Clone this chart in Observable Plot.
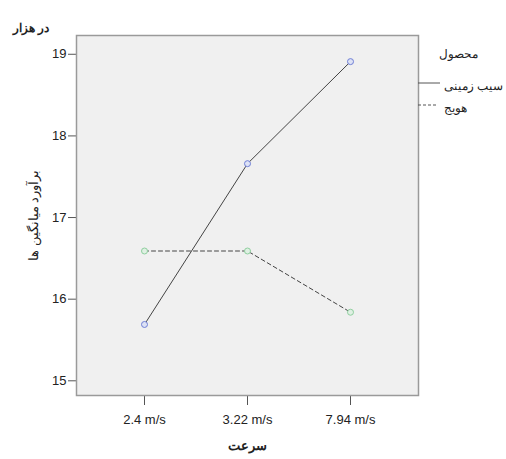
<!DOCTYPE html>
<html>
<head>
<meta charset="utf-8">
<script src="https://cdn.jsdelivr.net/npm/d3@7"></script>
<script src="https://cdn.jsdelivr.net/npm/@observablehq/plot@0.6"></script>
<style>
  html, body { margin: 0; padding: 0; background: #fff; }
  #chart { position: relative; width: 506px; height: 459px; }
</style>
</head>
<body>
<div id="chart"></div>
<script>
const speeds = ["2.4 m/s", "3.22 m/s", "7.94 m/s"];
const potato = [15.69, 17.66, 18.91];
const carrot = [16.59, 16.59, 15.84];
const seriesNames = ["سیب زمینی", "هویج"];
const yTicks = [15, 16, 17, 18, 19];

const data = [
  ...speeds.map((s, i) => ({speed: s, value: potato[i], series: seriesNames[0]})),
  ...speeds.map((s, i) => ({speed: s, value: carrot[i], series: seriesNames[1]}))
];

const W = 506, H = 459;
const mL = 76, mR = 88, mT = 35, mB = 64;

const plot = Plot.plot({
  width: W, height: H,
  marginLeft: mL, marginRight: mR, marginTop: mT, marginBottom: mB,
  style: {fontFamily: "Liberation Sans, Arial, sans-serif", fontSize: "13px", color: "#222", background: "#fff"},
  x: {type: "point", domain: speeds, padding: 0.66},
  y: {domain: [14.82, 19.23]},
  marks: [
    Plot.frame({fill: "#f0f0f0", stroke: "none"}),
    Plot.axisX({tickSize: 10, tickPadding: 9, label: null, stroke: "#555", fontSize: 13}),
    Plot.axisX({ticks: [], tickSize: 0, label: "سرعت", labelAnchor: "center", labelArrow: "none", labelOffset: 54, fontSize: 13, fontWeight: "bold"}),
    Plot.axisY({ticks: yTicks, tickSize: 8, tickPadding: 2, tickFormat: d => d, label: "برآورد میانگین ها", labelAnchor: "center", labelArrow: "none", labelOffset: 48, stroke: "#555", fontSize: 13}),
    Plot.frame({stroke: "#9a9a9a", strokeWidth: 1.5}),
    Plot.line(data.filter(d => d.series === seriesNames[0]), {x: "speed", y: "value", stroke: "#444", strokeWidth: 1}),
    Plot.line(data.filter(d => d.series === seriesNames[1]), {x: "speed", y: "value", stroke: "#444", strokeWidth: 1, strokeDasharray: "4,3"}),
    Plot.dot(data.filter(d => d.series === seriesNames[0]), {x: "speed", y: "value", r: 3, stroke: "#6f7fd6", fill: "#dde2f5", strokeWidth: 1}),
    Plot.dot(data.filter(d => d.series === seriesNames[1]), {x: "speed", y: "value", r: 3, stroke: "#8fcf9f", fill: "#dff0e3", strokeWidth: 1}),
    Plot.text(["در هزار"], {frameAnchor: "top-left", textAnchor: "start", dx: -64, dy: -12, fontSize: 12, fontWeight: "bold", fill: "#222"}),
    // legend
    Plot.text(["محصول"], {frameAnchor: "top-right", textAnchor: "start", dx: 20, dy: 14, fontSize: 12, fill: "#222"}),
    Plot.text([seriesNames[0]], {frameAnchor: "top-right", textAnchor: "start", dx: 25, dy: 46, fontSize: 11.5, fill: "#222"}),
    Plot.text([seriesNames[1]], {frameAnchor: "top-right", textAnchor: "start", dx: 25, dy: 68, fontSize: 11.5, fill: "#222"})
  ]
});

// legend line swatches
const svg = d3.select(plot);
const xr = W - mR;
svg.append("line").attr("x1", xr).attr("x2", xr + 22).attr("y1", 83).attr("y2", 83)
  .attr("stroke", "#555").attr("stroke-width", 1);
svg.append("line").attr("x1", xr).attr("x2", xr + 20).attr("y1", 105).attr("y2", 105)
  .attr("stroke", "#555").attr("stroke-width", 1).attr("stroke-dasharray", "3,2");

document.getElementById("chart").appendChild(plot);
</script>
</body>
</html>
